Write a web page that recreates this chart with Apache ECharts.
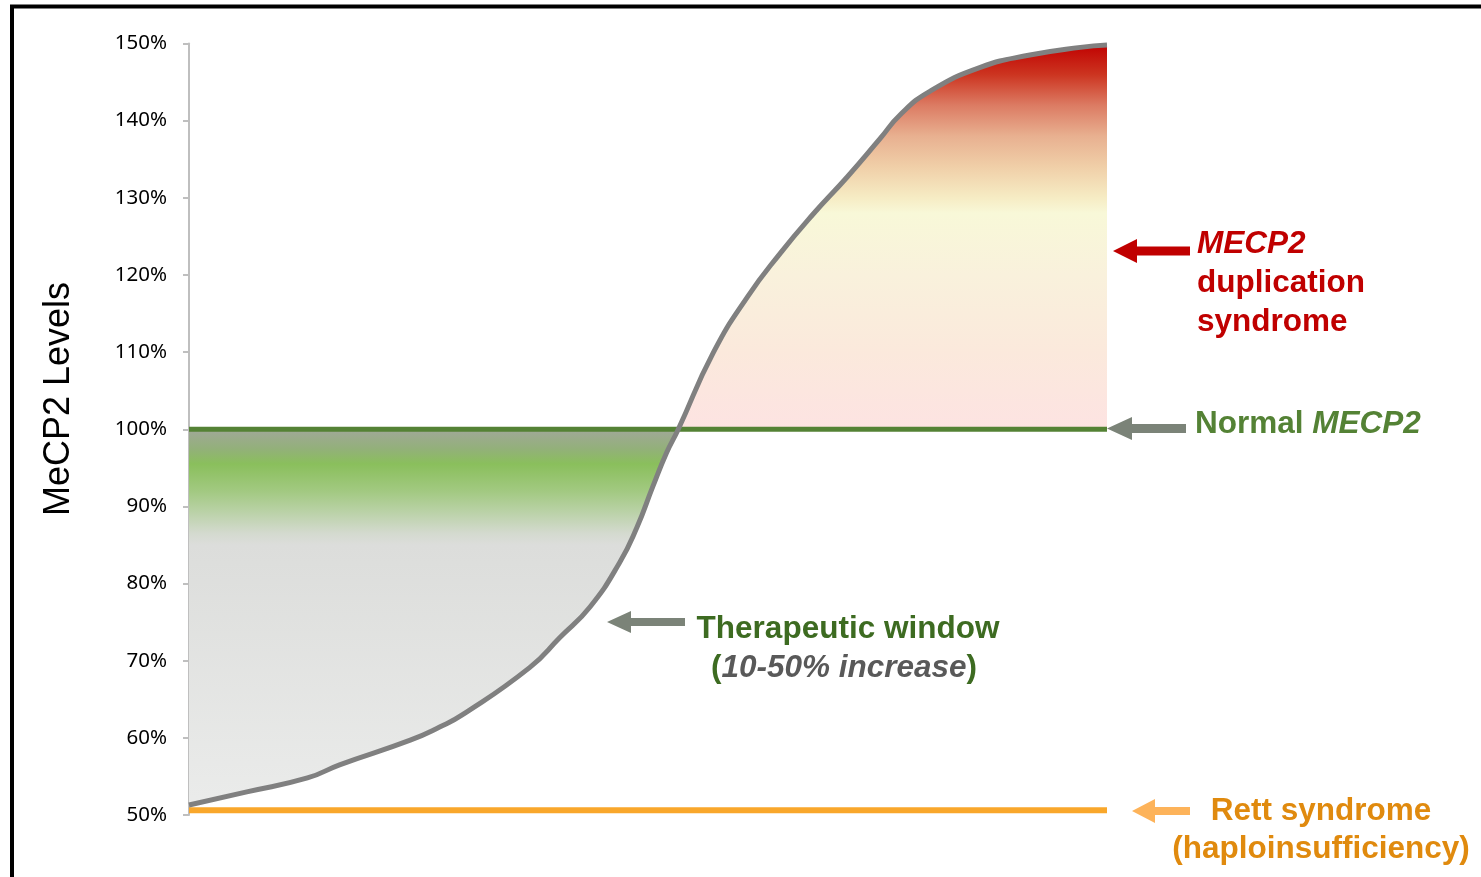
<!DOCTYPE html>
<html>
<head>
<meta charset="utf-8">
<script src="https://cdn.jsdelivr.net/npm/echarts@6/dist/echarts.min.js"></script>
<style>
html,body{margin:0;padding:0;background:#fff;}
#c{width:1481px;height:877px;}
</style>
</head>
<body>
<div id="c"></div>
<script>
// ---- data ----
var curveX = [0, 6.3, 12.9, 16.4, 24.1, 27.3, 29.8, 37.1, 40.4, 43.7, 46.9, 48.8, 50.5, 52.0, 53.3, 57.1, 60.8, 64.4, 68.0, 71.7, 75.3, 77.5, 80.7, 86.2, 91.6, 97.1, 100];
var curveY = [51.3, 53.0, 54.8, 56.5, 59.7, 61.4, 63.0, 69.1, 73.0, 77.0, 82.7, 87.3, 92.5, 96.9, 100, 109.9, 117.1, 122.8, 127.9, 132.7, 137.7, 140.8, 143.8, 146.9, 148.5, 149.5, 149.8];
var normalLevel = 100;
var rettLevel = 50.6;
var yTicks = [50, 60, 70, 80, 90, 100, 110, 120, 130, 140, 150];
var yAxisTitle = 'MeCP2 Levels';

var curveData = curveX.map(function (x, i) { return [x, curveY[i]]; });

var chart = echarts.init(document.getElementById('c'), null, {renderer: 'canvas'});

var GT = 43.5, GB = 815;
function off(v) { return (150 - v) / 100; }
var fillGrad = {
  type: 'linear', x: 0, y: GT, x2: 0, y2: GB, global: true,
  colorStops: [
    {offset: off(150), color: '#c00000'},
    {offset: off(146), color: '#cc3420'},
    {offset: off(142), color: '#dc7b63'},
    {offset: off(138), color: '#e8b090'},
    {offset: off(134), color: '#f0cfa8'},
    {offset: off(130), color: '#f6ecc4'},
    {offset: off(128), color: '#f8f8d8'},
    {offset: off(120), color: '#f9f1dc'},
    {offset: off(110), color: '#fbe9dc'},
    {offset: off(100.05), color: '#fde3e2'},
    {offset: off(99.95), color: '#a0a898'},
    {offset: off(97.5), color: '#93b07a'},
    {offset: off(95.5), color: '#8abf5c'},
    {offset: off(92), color: '#a2c981'},
    {offset: off(89.5), color: '#b8d1a4'},
    {offset: off(86.5), color: '#d4dacf'},
    {offset: off(85), color: '#dcdddb'},
    {offset: off(50), color: '#ebeceb'}
  ]
};

function arrow(tipX, y, backX, headHalf, shaftHalf, endX, color) {
  return {
    type: 'polygon', z: 50,
    shape: {points: [[tipX, y], [backX, y - headHalf], [backX, y - shaftHalf], [endX, y - shaftHalf], [endX, y + shaftHalf], [backX, y + shaftHalf], [backX, y + headHalf]]},
    style: {fill: color}
  };
}
var FF = '"Liberation Sans", Arial, sans-serif';
var BF = 'bold 31.5px ' + FF;
function txt(x, y, text, align, rich, color) {
  return {
    type: 'text', z: 50, x: x, y: y,
    style: {
      text: text, x: 0, y: 0,
      align: align, verticalAlign: 'middle',
      textAlign: align, textVerticalAlign: 'middle',
      fill: color, font: BF, rich: rich
    }
  };
}
function rs(extra) {
  var o = {fontFamily: FF, fontSize: 31.5, fontWeight: 'bold'};
  for (var k in extra) o[k] = extra[k];
  return o;
}

var option = {
  animation: false,
  backgroundColor: '#ffffff',
  grid: {left: 189, right: 374, top: GT, bottom: 877 - GB},
  xAxis: {type: 'value', min: 0, max: 100, show: false},
  yAxis: {
    type: 'value', min: 50, max: 150, interval: 10,
    axisLine: {show: true, lineStyle: {color: '#bfbfbf', width: 2}},
    axisTick: {show: true, length: 6, lineStyle: {color: '#bfbfbf', width: 2}},
    splitLine: {show: false},
    axisLabel: {
      margin: 22, color: '#000', fontSize: 20.5, fontFamily: '"Noto Sans", sans-serif',
      formatter: function (v) { return yTicks.indexOf(v) >= 0 ? v + '%' : ''; }
    }
  },
  series: [
    {
      type: 'line', data: curveData, symbol: 'none', smooth: 0.5, z: 1,
      lineStyle: {width: 0, opacity: 0},
      areaStyle: {origin: normalLevel, color: fillGrad, opacity: 1}
    },
    {
      type: 'line', data: [[0, normalLevel], [100, normalLevel]], symbol: 'none', z: 3,
      lineStyle: {color: '#548235', width: 5}
    },
    {
      type: 'line', data: [[0, rettLevel], [100, rettLevel]], symbol: 'none', z: 3,
      lineStyle: {color: '#f9a72b', width: 6}
    },
    {
      type: 'line', data: curveData, symbol: 'none', smooth: 0.5, z: 5,
      lineStyle: {color: '#808080', width: 5}
    }
  ],
  graphic: [
    {type: 'rect', z: 60, shape: {x: 12, y: 6.5, width: 1490, height: 890}, style: {fill: 'none', stroke: '#000', lineWidth: 4}},
    {type: 'text', z: 50, x: 59, y: 399, rotation: Math.PI / 2,
      style: {text: yAxisTitle, x: 0, y: 0, align: 'center', verticalAlign: 'middle', textAlign: 'center', textVerticalAlign: 'middle',
        fill: '#000', font: '36px ' + FF}},
    arrow(1113, 251, 1137, 12, 4.5, 1190, '#c00000'),
    arrow(1107, 428.5, 1132, 11.5, 4.5, 1186, '#7b8378'),
    arrow(607, 622, 631, 11, 4, 685, '#7b8378'),
    arrow(1132, 811, 1155, 12, 4, 1190, '#fdb35a'),
    txt(1197, 244, '{i|MECP2}', 'left', {i: rs({fontStyle: 'italic', fill: '#c00000'})}, '#c00000'),
    txt(1197, 283, 'duplication', 'left', null, '#c00000'),
    txt(1197, 322, 'syndrome', 'left', null, '#c00000'),
    txt(1195, 424, '{n|Normal }{i|MECP2}', 'left', {n: rs({fill: '#548235'}), i: rs({fontStyle: 'italic', fill: '#548235'})}, '#548235'),
    txt(848, 629, 'Therapeutic window', 'center', null, '#3d6b21'),
    txt(844, 668, '{p|(}{i|10-50% increase}{p|)}', 'center', {p: rs({fill: '#3d6b21'}), i: rs({fontStyle: 'italic', fill: '#595959'})}, '#3d6b21'),
    txt(1321, 811, 'Rett syndrome', 'center', null, '#e08a0e'),
    txt(1321, 849, '(haploinsufficiency)', 'center', null, '#e08a0e')
  ]
};
chart.setOption(option);
</script>
</body>
</html>
